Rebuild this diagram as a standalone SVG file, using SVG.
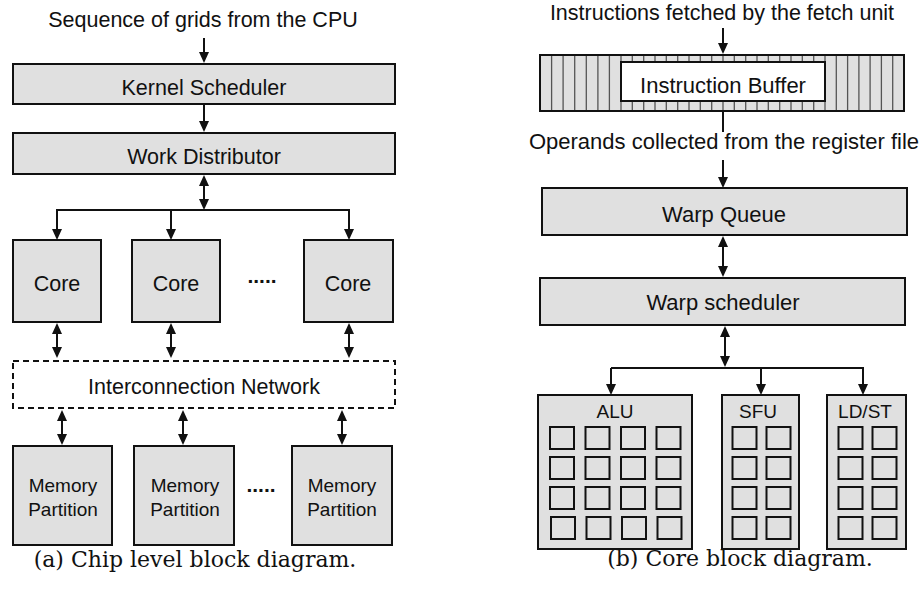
<svg xmlns="http://www.w3.org/2000/svg" width="922" height="594" viewBox="0 0 922 594">
  <style>
    .box { fill: #e0e0e0; stroke: #111; stroke-width: 2; }
    .net { fill: none; stroke: #111; stroke-width: 2; stroke-dasharray: 6 4; }
    .white { fill: #fff; stroke: #111; stroke-width: 2; }
    .unit { fill: none; stroke: #111; stroke-width: 2; }
    .stripe { stroke: #555; stroke-width: 1.3; }
    .wire { fill: none; stroke: #111; stroke-width: 2; }
    .arrow { marker-end: url(#head); }
    .both { marker-start: url(#head); marker-end: url(#head); }
    text { font-family: "Liberation Sans", Arial, sans-serif; fill: #111; text-anchor: middle; }
    .lbl { font-size: 21.5px; }
    .lbl2 { font-size: 22px; }
    .top { font-size: 21.5px; }
    .sm { font-size: 19px; }
    .dots { font-size: 21px; font-weight: bold; }
    .cap { font-family: "DejaVu Serif", "Liberation Serif", serif; font-size: 22px; }
  </style>
  <defs>
    <marker id="head" viewBox="0 0 11 10" refX="7" refY="5" markerWidth="11" markerHeight="10" markerUnits="userSpaceOnUse" orient="auto-start-reverse">
      <path d="M0,0 L11,5 L0,10 z" fill="#111"/>
    </marker>
  </defs>

  <!-- chip level -->
  <text class="lbl" x="203" y="27">Sequence of grids from the CPU</text>

  <g id="kernel-scheduler">
    <rect class="box" x="13" y="64" width="382" height="40"/>
    <text class="lbl" x="204" y="95">Kernel Scheduler</text>
  </g>
  <g id="work-distributor">
    <rect class="box" x="13" y="133" width="382" height="41"/>
    <text class="lbl" x="204" y="164">Work Distributor</text>
  </g>

  <g id="core-1">
    <rect class="box" x="13" y="240" width="88" height="82"/>
    <text class="lbl" x="57" y="291">Core</text>
  </g>
  <g id="core-2">
    <rect class="box" x="132" y="240" width="88" height="82"/>
    <text class="lbl" x="176" y="291">Core</text>
  </g>
  <g id="core-n">
    <rect class="box" x="304" y="240" width="89" height="82"/>
    <text class="lbl" x="348" y="291">Core</text>
  </g>
  <text class="dots" x="262" y="283">.....</text>

  <g id="interconnect">
    <rect class="net" x="13" y="361" width="382" height="47"/>
    <text class="lbl" x="204" y="394">Interconnection Network</text>
  </g>

  <g id="mem-1">
    <rect class="box" x="13" y="446" width="99" height="99"/>
    <text class="sm" x="63" y="492">Memory</text>
    <text class="sm" x="63" y="516">Partition</text>
  </g>
  <g id="mem-2">
    <rect class="box" x="134" y="446" width="100" height="99"/>
    <text class="sm" x="185" y="492">Memory</text>
    <text class="sm" x="185" y="516">Partition</text>
  </g>
  <g id="mem-n">
    <rect class="box" x="292" y="446" width="100" height="99"/>
    <text class="sm" x="342" y="492">Memory</text>
    <text class="sm" x="342" y="516">Partition</text>
  </g>
  <text class="dots" x="261" y="492">.....</text>

  <text class="cap" x="195" y="567">(a) Chip level block diagram.</text>

  <!-- core level -->
  <text class="top" x="722" y="20">Instructions fetched by the fetch unit</text>

  <g id="instruction-buffer">
    <rect class="box" x="540" y="55" width="364" height="56"/>
    <g class="stripe">
      <!-- left bank -->
      <line x1="551.6" y1="55" x2="551.6" y2="111"/>
      <line x1="563.1" y1="55" x2="563.1" y2="111"/>
      <line x1="574.7" y1="55" x2="574.7" y2="111"/>
      <line x1="586.3" y1="55" x2="586.3" y2="111"/>
      <line x1="597.9" y1="55" x2="597.9" y2="111"/>
      <line x1="609.4" y1="55" x2="609.4" y2="111"/>
      <line x1="621" y1="55" x2="621" y2="111"/>
      <!-- right bank -->
      <line x1="825" y1="55" x2="825" y2="111"/>
      <line x1="836.3" y1="55" x2="836.3" y2="111"/>
      <line x1="847.6" y1="55" x2="847.6" y2="111"/>
      <line x1="858.9" y1="55" x2="858.9" y2="111"/>
      <line x1="870.1" y1="55" x2="870.1" y2="111"/>
      <line x1="881.4" y1="55" x2="881.4" y2="111"/>
      <line x1="892.7" y1="55" x2="892.7" y2="111"/>
      <!-- centre slots, visible above and below the label -->
      <line x1="632.3" y1="55" x2="632.3" y2="111"/>
      <line x1="643.7" y1="55" x2="643.7" y2="111"/>
      <line x1="655" y1="55" x2="655" y2="111"/>
      <line x1="666.3" y1="55" x2="666.3" y2="111"/>
      <line x1="677.7" y1="55" x2="677.7" y2="111"/>
      <line x1="689" y1="55" x2="689" y2="111"/>
      <line x1="700.3" y1="55" x2="700.3" y2="111"/>
      <line x1="711.7" y1="55" x2="711.7" y2="111"/>
      <line x1="723" y1="55" x2="723" y2="111"/>
      <line x1="734.3" y1="55" x2="734.3" y2="111"/>
      <line x1="745.7" y1="55" x2="745.7" y2="111"/>
      <line x1="757" y1="55" x2="757" y2="111"/>
      <line x1="768.3" y1="55" x2="768.3" y2="111"/>
      <line x1="779.7" y1="55" x2="779.7" y2="111"/>
      <line x1="791" y1="55" x2="791" y2="111"/>
      <line x1="802.3" y1="55" x2="802.3" y2="111"/>
      <line x1="813.7" y1="55" x2="813.7" y2="111"/>
    </g>
    <rect class="unit" x="540" y="55" width="364" height="56"/>
    <rect class="white" x="621" y="62" width="204" height="39"/>
    <text class="lbl2" x="723" y="93">Instruction Buffer</text>
  </g>

  <text class="lbl2" x="724" y="149">Operands collected from the register file</text>

  <g id="warp-queue">
    <rect class="box" x="542" y="188" width="365" height="47"/>
    <text class="lbl2" x="724" y="222">Warp Queue</text>
  </g>
  <g id="warp-scheduler">
    <rect class="box" x="540" y="278" width="365" height="47"/>
    <text class="lbl2" x="723" y="310">Warp scheduler</text>
  </g>

  <g id="alu">
    <rect class="box" x="538" y="395" width="154" height="154"/>
    <text class="sm" x="615" y="418">ALU</text>
    <rect class="unit" x="550" y="427" width="24" height="22"/>
    <rect class="unit" x="585.5" y="427" width="24" height="22"/>
    <rect class="unit" x="621" y="427" width="24" height="22"/>
    <rect class="unit" x="656.5" y="427" width="24" height="22"/>
    <rect class="unit" x="550" y="457" width="24" height="22"/>
    <rect class="unit" x="585.5" y="457" width="24" height="22"/>
    <rect class="unit" x="621" y="457" width="24" height="22"/>
    <rect class="unit" x="656.5" y="457" width="24" height="22"/>
    <rect class="unit" x="550" y="487" width="24" height="22"/>
    <rect class="unit" x="585.5" y="487" width="24" height="22"/>
    <rect class="unit" x="621" y="487" width="24" height="22"/>
    <rect class="unit" x="656.5" y="487" width="24" height="22"/>
    <rect class="unit" x="551" y="517" width="24" height="22"/>
    <rect class="unit" x="586.5" y="517" width="24" height="22"/>
    <rect class="unit" x="622" y="517" width="24" height="22"/>
    <rect class="unit" x="657.5" y="517" width="24" height="22"/>
  </g>
  <g id="sfu">
    <rect class="box" x="722" y="395" width="77" height="154"/>
    <text class="sm" x="758" y="418">SFU</text>
    <rect class="unit" x="732.5" y="427" width="24" height="22"/>
    <rect class="unit" x="766.5" y="427" width="24" height="22"/>
    <rect class="unit" x="732.5" y="457" width="24" height="22"/>
    <rect class="unit" x="766.5" y="457" width="24" height="22"/>
    <rect class="unit" x="732.5" y="487" width="24" height="22"/>
    <rect class="unit" x="766.5" y="487" width="24" height="22"/>
    <rect class="unit" x="732.5" y="517" width="24" height="22"/>
    <rect class="unit" x="766.5" y="517" width="24" height="22"/>
  </g>
  <g id="ldst">
    <rect class="box" x="827" y="395" width="79" height="154"/>
    <text class="sm" x="865" y="418">LD/ST</text>
    <rect class="unit" x="838.5" y="427" width="24" height="22"/>
    <rect class="unit" x="872.5" y="427" width="24" height="22"/>
    <rect class="unit" x="838.5" y="457" width="24" height="22"/>
    <rect class="unit" x="872.5" y="457" width="24" height="22"/>
    <rect class="unit" x="838.5" y="487" width="24" height="22"/>
    <rect class="unit" x="872.5" y="487" width="24" height="22"/>
    <rect class="unit" x="838.5" y="517" width="24" height="22"/>
    <rect class="unit" x="872.5" y="517" width="24" height="22"/>
  </g>

  <text class="cap" x="740" y="566">(b) Core block diagram.</text>

  <!-- connectors -->
  <g id="connectors" class="wire">
    <!-- chip level -->
    <line class="arrow" x1="204" y1="38" x2="204" y2="59"/>
    <line class="arrow" x1="204" y1="104" x2="204" y2="128"/>
    <line class="both" x1="204" y1="179" x2="204" y2="206"/>
    <line x1="56" y1="210" x2="350" y2="210"/>
    <line class="arrow" x1="57" y1="210" x2="57" y2="236"/>
    <line class="arrow" x1="171" y1="210" x2="171" y2="236"/>
    <line class="arrow" x1="349" y1="210" x2="349" y2="236"/>
    <line class="both" x1="57" y1="327" x2="57" y2="354"/>
    <line class="both" x1="171" y1="327" x2="171" y2="354"/>
    <line class="both" x1="349" y1="327" x2="349" y2="354"/>
    <line class="both" x1="62" y1="414" x2="62" y2="441"/>
    <line class="both" x1="183" y1="414" x2="183" y2="441"/>
    <line class="both" x1="342" y1="414" x2="342" y2="441"/>
    <!-- core level -->
    <line class="arrow" x1="723" y1="28" x2="723" y2="50"/>
    <line x1="723" y1="111" x2="723" y2="132"/>
    <line class="arrow" x1="723" y1="160" x2="723" y2="184"/>
    <line class="both" x1="723" y1="240" x2="723" y2="273"/>
    <line class="both" x1="725" y1="330" x2="725" y2="363"/>
    <line x1="611" y1="368" x2="864" y2="368"/>
    <line class="arrow" x1="611" y1="368" x2="611" y2="391"/>
    <line class="arrow" x1="761" y1="368" x2="761" y2="391"/>
    <line class="arrow" x1="863" y1="368" x2="863" y2="391"/>
  </g>
</svg>
